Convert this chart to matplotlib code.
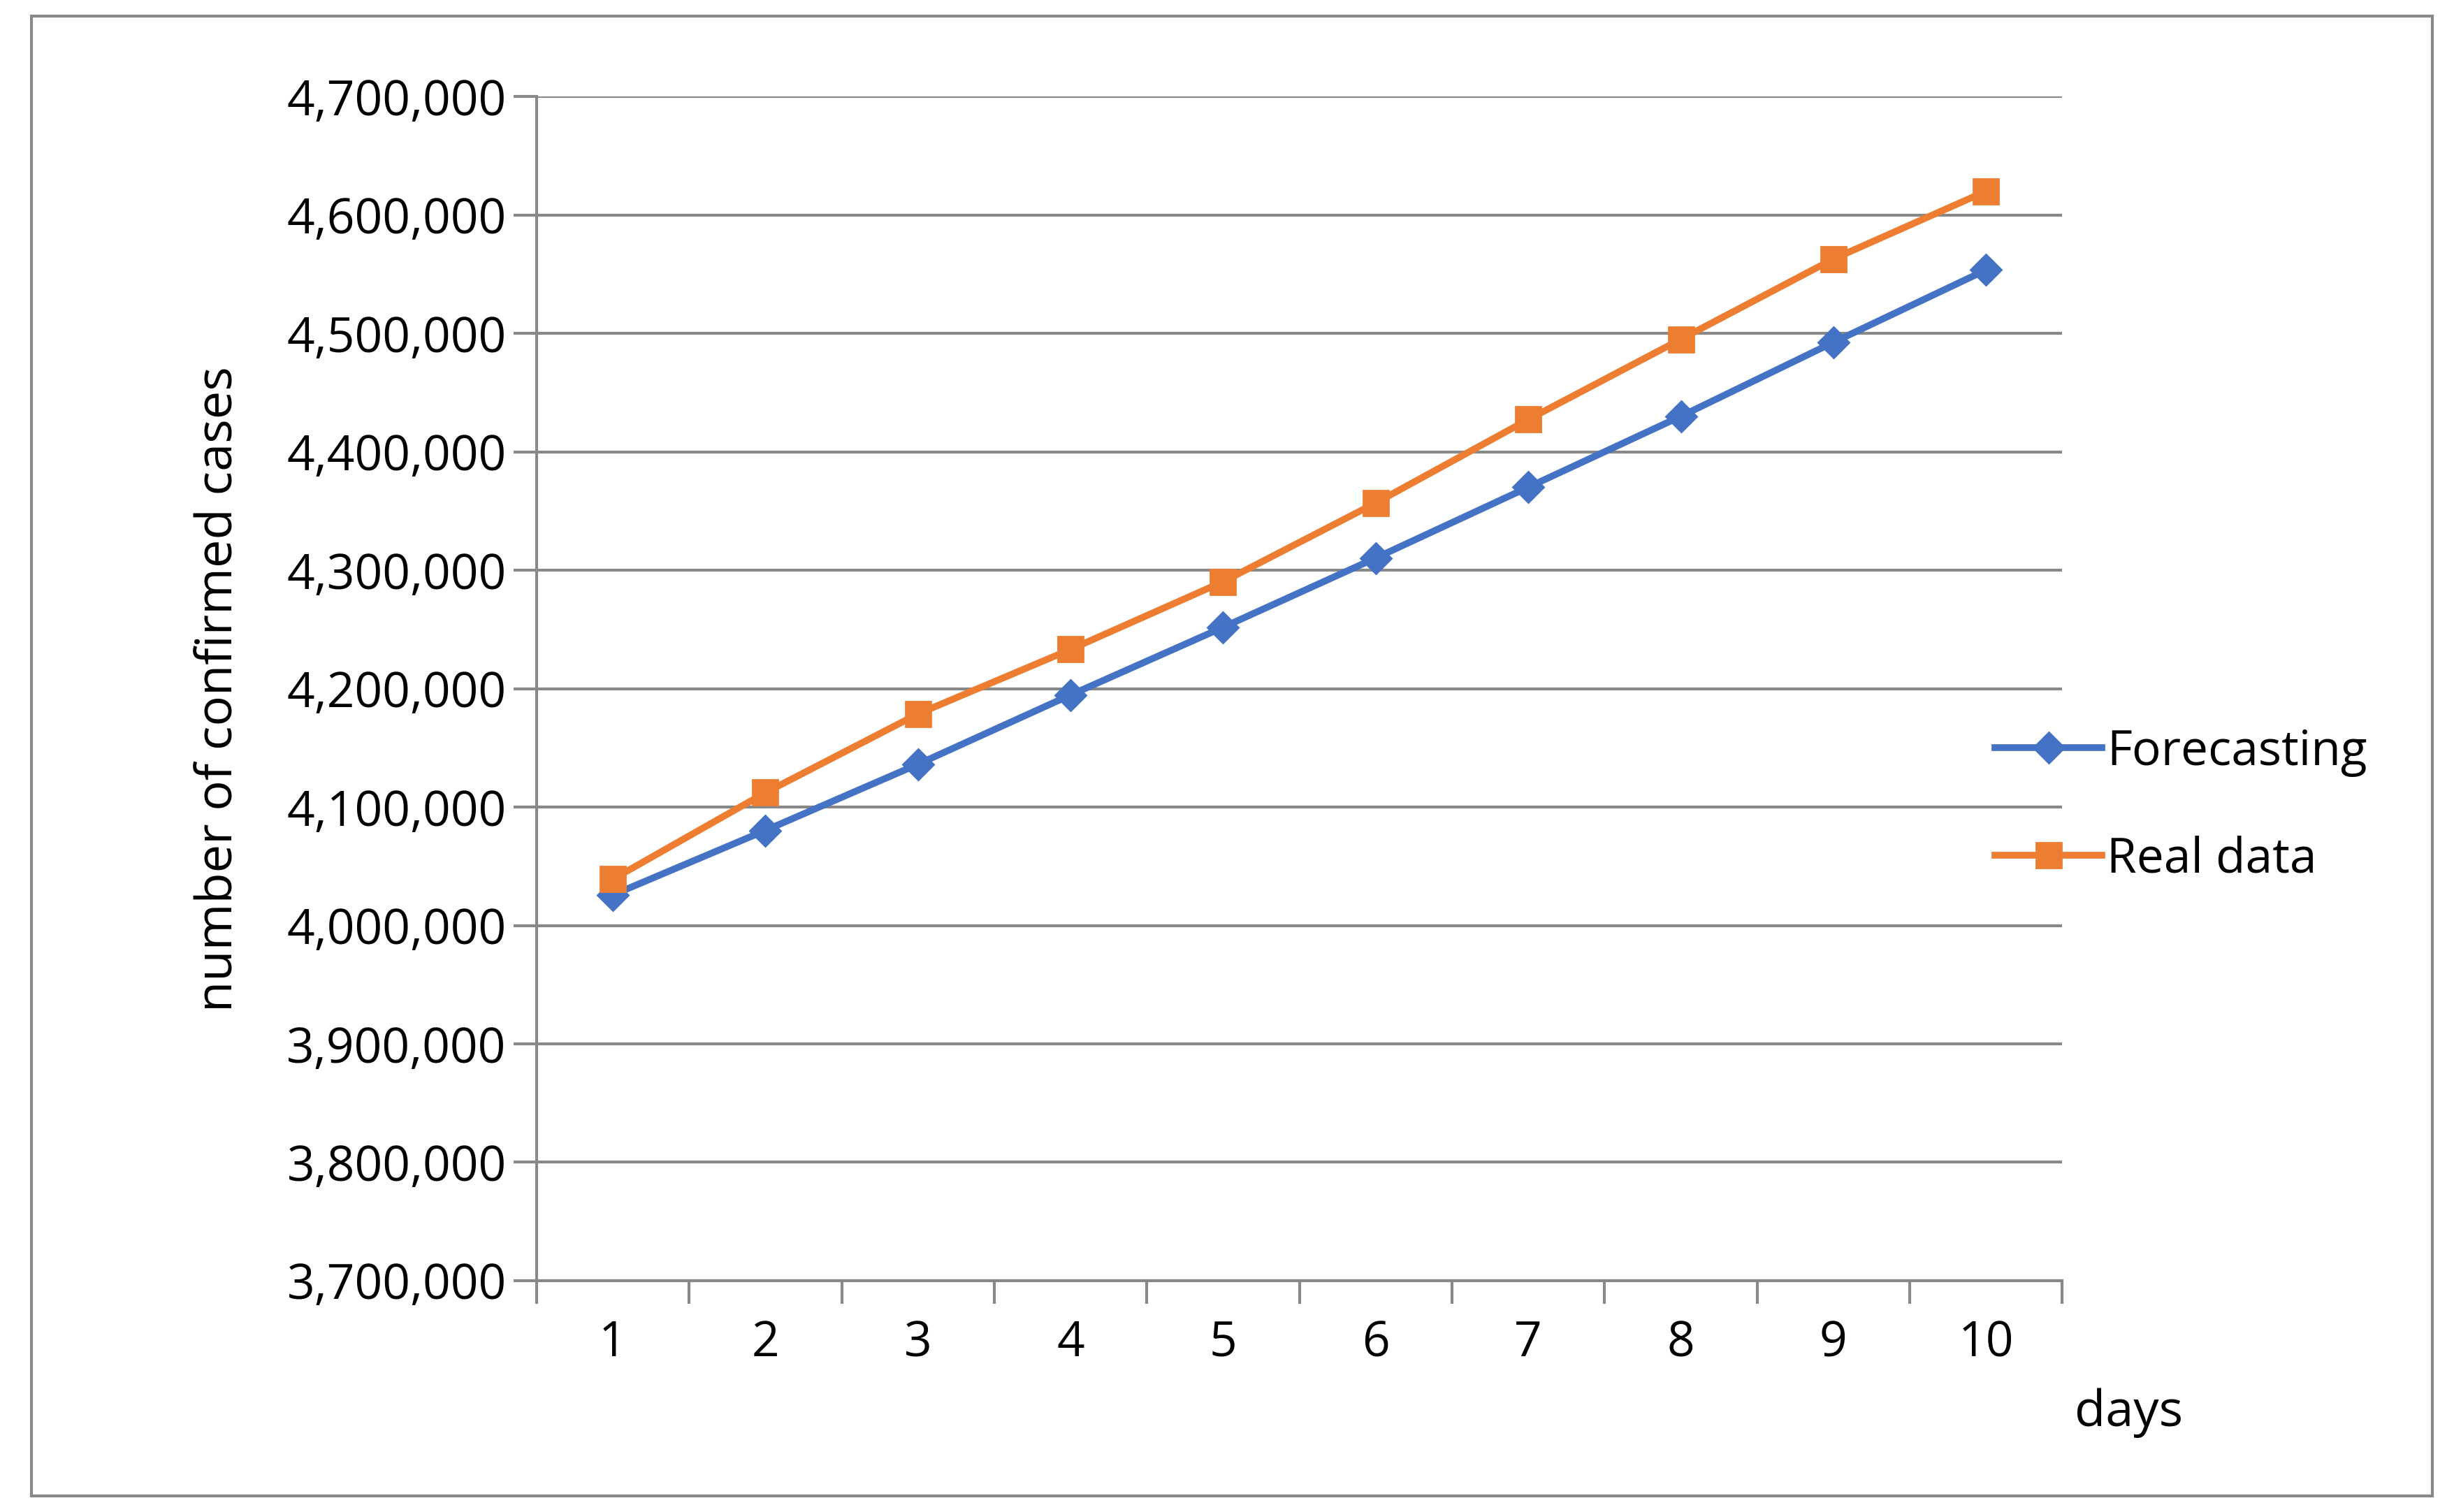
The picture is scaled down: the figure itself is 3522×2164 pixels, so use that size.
import matplotlib.pyplot as plt
from matplotlib.patches import Rectangle
from matplotlib.ticker import FuncFormatter, FixedLocator

days = [1, 2, 3, 4, 5, 6, 7, 8, 9, 10]
forecasting = [4025800, 4080300, 4136200, 4194700, 4251900,
               4310400, 4370200, 4430100, 4492600, 4553700]
real_data = [4039100, 4112200, 4178700, 4233200, 4290400,
             4356900, 4427400, 4495200, 4563000, 4620200]

plt.rcParams['font.family'] = ['Open Sans', 'DejaVu Sans']

fig = plt.figure(figsize=(17.61, 10.82), dpi=200)
ax = fig.add_axes([0.218, 0.153, 0.62, 0.783])

ax.plot(days, forecasting, color='#4472C4', lw=3.5, marker='D', ms=11, label='Forecasting')
ax.plot(days, real_data, color='#ED7D31', lw=3.5, marker='s', ms=13, label='Real data')

ax.set_xlim(0.5, 10.5)
ax.set_ylim(3700000, 4700000)
ax.set_yticks(range(3700000, 4700001, 100000))
ax.yaxis.set_major_formatter(FuncFormatter(lambda v, p: f'{int(v):,}'))
ax.set_xticks(days)
ax.xaxis.set_minor_locator(FixedLocator([d + 0.5 for d in range(0, 11)]))
ax.tick_params(axis='x', which='major', length=0, labelsize=25, pad=20)
ax.tick_params(axis='x', which='minor', length=12, color='#888888', width=1.5)
ax.tick_params(axis='y', length=12, color='#888888', width=1.5, labelsize=25)
ax.grid(axis='y', color='#888888', lw=1.5)
ax.set_axisbelow(True)
for s in ['top', 'right']:
    ax.spines[s].set_visible(False)
ax.spines['left'].set_color('#888888')
ax.spines['bottom'].set_color('#888888')
ax.spines['left'].set_linewidth(1.5)
ax.spines['bottom'].set_linewidth(1.5)

ax.set_ylabel('number of confirmed cases', fontsize=26, labelpad=22)
fig.text(1352 / 1563, 1 - 897 / 960, 'days', fontsize=26, ha='center', va='center')

fig.legend(loc='center left', bbox_to_anchor=(0.793, 0.467), frameon=False,
           fontsize=25, handlelength=2.2, labelspacing=1.2, handletextpad=0.1)

fig.patches.append(Rectangle((20 / 1563, 1 - 950 / 960), 1525 / 1563, 940 / 960,
                             transform=fig.transFigure, fill=False,
                             edgecolor='#888888', lw=1.5))

fig.savefig('out.png')
